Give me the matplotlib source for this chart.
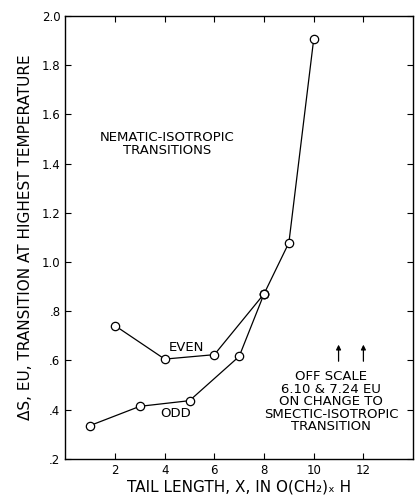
import matplotlib
matplotlib.use("Agg")
import matplotlib.pyplot as plt

# odd tail lengths
odd_x = [1, 3, 5, 7, 8]
odd_y = [0.335, 0.413, 0.436, 0.616, 0.87]
# even tail lengths
even_x = [2, 4, 6, 8]
even_y = [0.741, 0.605, 0.623, 0.87]
# upper branch where both join
top_x = [8, 9, 10]
top_y = [0.87, 1.078, 1.906]

arrow_x = [11, 12]

yticks = [0.2, 0.4, 0.6, 0.8, 1.0, 1.2, 1.4, 1.6, 1.8, 2.0]
ylabels = [".2", ".4", ".6", ".8", "1.0", "1.2", "1.4", "1.6", "1.8", "2.0"]
xticks = [2, 4, 6, 8, 10, 12]

plt.rcParams['font.family'] = ['DejaVu Sans']
fig = plt.figure(figsize=(4.16, 4.97), dpi=100)
ax = fig.add_axes([0.157, 0.077, 0.836, 0.891])

mk = dict(marker='o', markersize=6, markerfacecolor='white',
          markeredgecolor='black', markeredgewidth=0.9, color='black', linewidth=0.9)
ax.plot(top_x, top_y, **mk)
ax.plot(even_x, even_y, **mk)
ax.plot(odd_x, odd_y, **mk)

for xa in arrow_x:
    ax.annotate("", xy=(xa, 0.675), xytext=(xa, 0.585),
                arrowprops=dict(arrowstyle='-|>', color='black', lw=0.9,
                                mutation_scale=7))

fs = 9.5
ax.text(4.08, 1.48, "NEMATIC-ISOTROPIC\nTRANSITIONS", ha='center', va='center',
        fontsize=fs, linespacing=1.0)
ax.text(4.88, 0.652, "EVEN", ha='center', va='center', fontsize=fs)
ax.text(4.44, 0.383, "ODD", ha='center', va='center', fontsize=fs)
ax.text(10.7, 0.432, "OFF SCALE\n6.10 & 7.24 EU\nON CHANGE TO\nSMECTIC-ISOTROPIC\nTRANSITION",
        ha='center', va='center', fontsize=fs, linespacing=0.95)

ax.set_xlim(0, 14)
ax.set_ylim(0.2, 2.0)
ax.set_xticks(xticks)
ax.set_yticks(yticks)
ax.set_yticklabels(ylabels)
ax.tick_params(direction='in', length=4, width=0.8, labelsize=8.5,
               top=True, right=True)
for s in ax.spines.values():
    s.set_linewidth(1.0)

ax.set_xlabel("TAIL LENGTH, X, IN O(CH₂)ₓ H", fontsize=11, labelpad=2)
ax.set_ylabel("ΔS, EU, TRANSITION AT HIGHEST TEMPERATURE", fontsize=11, labelpad=6)

fig.savefig("out.png", dpi=100)
